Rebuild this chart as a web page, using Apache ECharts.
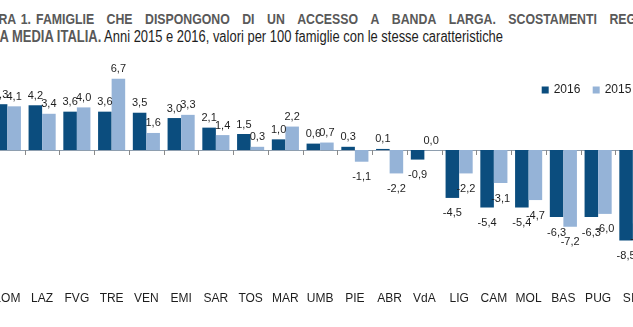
<!DOCTYPE html>
<html><head><meta charset="utf-8">
<script src="https://cdn.jsdelivr.net/npm/echarts@6/dist/echarts.min.js"></script>
<style>
html,body{margin:0;padding:0;width:633px;height:327px;overflow:hidden;background:#fff;position:relative;}
#chart{position:absolute;left:-60px;top:0;width:760px;height:327px;}
.tl{position:absolute;font-family:"Liberation Sans",Arial,sans-serif;white-space:nowrap;transform:scaleX(0.82);transform-origin:0 0;}
#l1{left:-31px;top:9.5px;font-size:15px;line-height:18px;display:flex;column-gap:15.2px;font-weight:bold;color:#595959;}
#l1 .first{word-spacing:2px;}
#l2{left:-35px;top:28px;font-size:15.8px;line-height:18px;color:#1e1e1e;}
#l2 b{color:#595959;}
</style></head>
<body>
<div id="l1" class="tl"><span class="first">FIGURA 1. FAMIGLIE</span><span>CHE</span><span>DISPONGONO</span><span>DI</span><span>UN</span><span>ACCESSO</span><span>A</span><span>BANDA</span><span>LARGA.</span><span>SCOSTAMENTI</span><span>REGIONALI</span></div>
<div id="l2" class="tl"><b>DALLA MEDIA ITALIA.</b> Anni 2015 e 2016, valori per 100 famiglie con le stesse caratteristiche</div>
<div id="chart"></div>
<script>
const categories = ['LOM','LAZ','FVG','TRE','VEN','EMI','SAR','TOS','MAR','UMB','PIE','ABR','VdA','LIG','CAM','MOL','BAS','PUG','SIC'];
const values2016 = [4.3,4.2,3.6,3.6,3.5,3.0,2.1,1.5,1.0,0.6,0.3,0.1,-0.9,-4.5,-5.4,-5.4,-6.3,-6.3,-8.5];
const values2015 = [4.1,3.4,4.0,6.7,1.6,3.3,1.4,0.3,2.2,0.7,-1.1,-2.2,0.0,-2.2,-3.1,-4.7,-7.2,-6.0,-6.9];
const seriesNames = ['2016','2015'];
const colors = ['#0b4d7e','#95b3d7'];
const FONT = '"Liberation Sans",Arial,sans-serif';

function mk(arr){
  return arr.map(v => ({value:v, label:{position: v<0?'bottom':'top', distance: v<0?10:4}}));
}
const chart = echarts.init(document.getElementById('chart'), null, {renderer:'canvas'});
chart.setOption({
  animation:false,
  textStyle:{fontFamily:FONT},
  legend:{
    data:seriesNames, left:601.7, top:84, padding:0, itemWidth:7, itemHeight:7, itemGap:12.3,
    icon:'rect', textStyle:{fontFamily:FONT, fontSize:12, color:'#1e1e1e'}
  },
  grid:{left:50, right:49.75, top:64.8, bottom:70.5, containLabel:false, outerBoundsMode:'none'},
  xAxis:{
    type:'category', data:categories,
    axisLine:{onZero:true, lineStyle:{color:'#8e9eaf', width:1}},
    axisTick:{show:true, length:5, lineStyle:{color:'#8a8a8a'}},
    axisLabel:{margin:36, fontFamily:FONT, fontSize:12, color:'#1e1e1e'}
  },
  yAxis:{type:'value', min:-10, max:8, interval:2, show:false, splitLine:{show:false}},
  series:[0,1].map(i => ({
    name:seriesNames[i], type:'bar', data:mk(i===0?values2016:values2015),
    barGap:'0%', barCategoryGap:'22%',
    itemStyle:{color:colors[i]},
    label:{show:true, fontFamily:FONT, fontSize:11, color:'#1e1e1e',
      formatter:p => p.value.toFixed(1).replace('.',',')}
  }))
});
</script>
</body></html>
